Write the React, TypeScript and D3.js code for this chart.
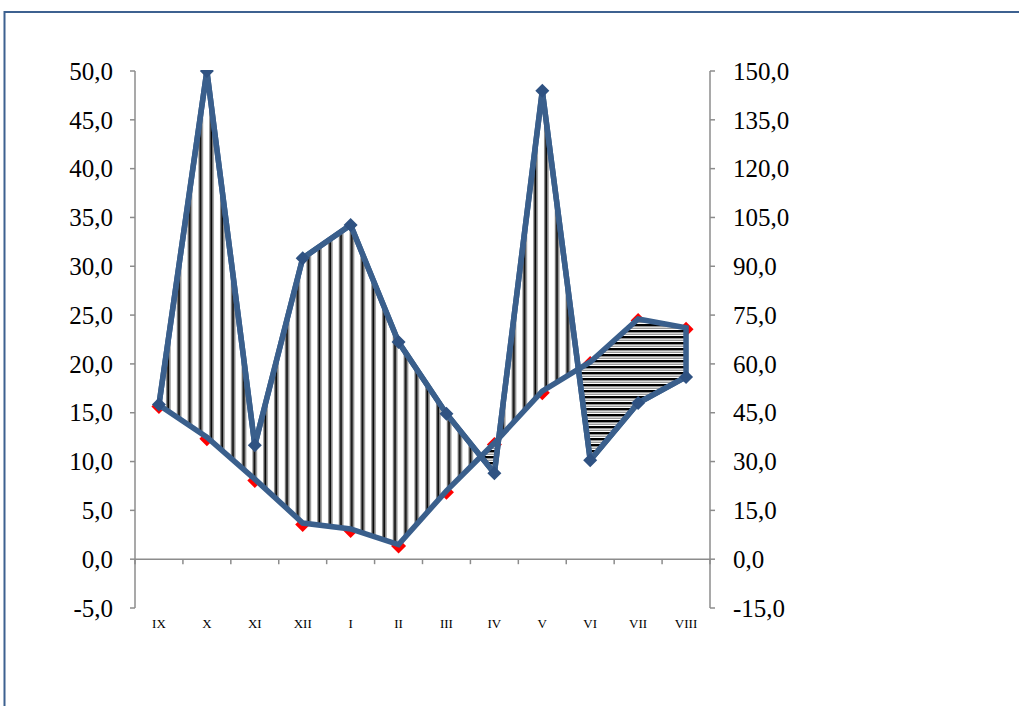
import React from "react";
import * as d3 from "d3";

const months = ["IX", "X", "XI", "XII", "I", "II", "III", "IV", "V", "VI", "VII", "VIII"];
const temperature = [15.8, 12.5, 8.2, 3.7, 3.1, 1.5, 7.0, 11.9, 17.2, 20.2, 24.6, 23.7];
const precipitation = [47.5, 150, 35, 92.5, 102.7, 66.7, 44.7, 26.4, 143.9, 30.4, 48, 56];
const leftTicks = [-5, 0, 5, 10, 15, 20, 25, 30, 35, 40, 45, 50];
const rightTicks = [-15, 0, 15, 30, 45, 60, 75, 90, 105, 120, 135, 150];

const W = 1019;
const H = 706;
const X0 = 135;
const X1 = 710;
const YT = 71;
const YB = 608;
const BLUE = "#3a5f8c";
const AXIS = "#8c8c8c";
const FONT = "'Liberation Serif', 'Times New Roman', serif";

const fmt = (v: number) => v.toFixed(1).replace(".", ",");

type P = [number, number];

export default function App() {
  const x = d3.scaleBand<string>().domain(months).range([X0, X1]);
  const bw = x.bandwidth();
  const yL = d3.scaleLinear().domain([-5, 50]).range([YB, YT]);
  const yR = d3.scaleLinear().domain([-15, 150]).range([YB, YT]);
  const cx = (m: string) => (x(m) as number) + bw / 2;

  const pts = months.map((m, i) => ({
    x: cx(m),
    yt: yL(temperature[i]),
    yp: yR(precipitation[i]),
  }));

  // Build humid/arid polygons between the two curves
  const polys: { humid: boolean; pts: P[] }[] = [];
  const sgn = (d: number) => d >= 0;
  let curP: P[] = [[pts[0].x, pts[0].yp]];
  let curT: P[] = [[pts[0].x, pts[0].yt]];
  let curS = sgn(pts[0].yt - pts[0].yp);
  for (let i = 0; i < pts.length - 1; i++) {
    const a = pts[i];
    const b = pts[i + 1];
    const da = a.yt - a.yp;
    const db = b.yt - b.yp;
    if (da * db < 0) {
      const t = da / (da - db);
      const ix = a.x + t * (b.x - a.x);
      const iy = a.yt + t * (b.yt - a.yt);
      curP.push([ix, iy]);
      curT.push([ix, iy]);
      polys.push({ humid: curS, pts: [...curP, ...curT.slice().reverse()] });
      curP = [[ix, iy]];
      curT = [[ix, iy]];
      curS = sgn(db);
    }
    curP.push([b.x, b.yp]);
    curT.push([b.x, b.yt]);
  }
  polys.push({ humid: curS, pts: [...curP, ...curT.slice().reverse()] });

  const lineT = d3
    .line<number>()
    .x((_, i) => cx(months[i]))
    .y((d) => yL(d));
  const lineP = d3
    .line<number>()
    .x((_, i) => cx(months[i]))
    .y((d) => yR(d));

  const diamond = (px: number, py: number, r: number) =>
    `M${px},${py - r}L${px + r},${py}L${px},${py + r}L${px - r},${py}Z`;

  const y0 = yL(0);
  const boundaries = months.map((m) => x(m) as number).concat([X1]);

  return (
    <div>
      <style>{`body{margin:0;background:#fff}`}</style>
      <svg width={W} height={H} style={{ display: "block" }}>
        <defs>
          <pattern id="vhatch" patternUnits="userSpaceOnUse" width={10.8} height={10} x={1}>
            <rect width={10.8} height={10} fill="#fff" />
            <rect x={3.0} width={1.2} height={10} fill="#8a8a8a" />
            <rect x={4.2} width={2.2} height={10} fill="#000" />
            <rect x={6.4} width={1.2} height={10} fill="#8a8a8a" />
          </pattern>
          <pattern id="hhatch" patternUnits="userSpaceOnUse" width={10} height={6}>
            <rect width={10} height={6} fill="#fff" />
            <rect y={0} width={10} height={2} fill="#000" />
            <rect y={2} width={10} height={0.8} fill="#777" />
            <rect y={3.6} width={10} height={1.4} fill="#9a9a9a" />
          </pattern>
          <clipPath id="plotclip">
            <rect x={0} y={YT - 1} width={W} height={H} />
          </clipPath>
        </defs>

        {/* frame */}
        <rect x={4.5} y={12} width={W + 20} height={H + 20} fill="none" stroke="#3d6190" strokeWidth={2} />

        {/* axes */}
        <line x1={X0} x2={X0} y1={YT} y2={YB} stroke={AXIS} strokeWidth={1.5} />
        <line x1={X1} x2={X1} y1={YT} y2={YB} stroke={AXIS} strokeWidth={1.5} />
        {leftTicks.map((t) => (
          <g key={"l" + t}>
            <line x1={X0 - 5} x2={X0} y1={yL(t)} y2={yL(t)} stroke={AXIS} strokeWidth={1.5} />
            <text x={113} y={yL(t)} dy="0.35em" textAnchor="end" fontFamily={FONT} fontSize={25} fill="#000">
              {fmt(t)}
            </text>
          </g>
        ))}
        {rightTicks.map((t) => (
          <g key={"r" + t}>
            <line x1={X1} x2={X1 + 5} y1={yR(t)} y2={yR(t)} stroke={AXIS} strokeWidth={1.5} />
            <text x={733} y={yR(t)} dy="0.35em" textAnchor="start" fontFamily={FONT} fontSize={25} fill="#000">
              {fmt(t)}
            </text>
          </g>
        ))}
        <line x1={X0} x2={X1} y1={y0} y2={y0} stroke={AXIS} strokeWidth={1.5} />
        {boundaries.map((b, i) => (
          <line key={"b" + i} x1={b} x2={b} y1={y0} y2={y0 + 5} stroke={AXIS} strokeWidth={1.5} />
        ))}
        {months.map((m) => (
          <text key={m} x={cx(m)} y={628} textAnchor="middle" fontFamily={FONT} fontSize={13} fill="#000">
            {m}
          </text>
        ))}

        {/* temperature line (red) */}
        <path d={lineT(temperature) || ""} fill="none" stroke="#ff0000" strokeWidth={3} />
        {temperature.map((t, i) => (
          <path key={"tm" + i} d={diamond(cx(months[i]), yL(t) + 1.5, 7.5)} fill="#ff0000" />
        ))}

        {/* hatched areas */}
        <g clipPath="url(#plotclip)">
          {polys.map((p, i) => (
            <path
              key={"poly" + i}
              d={"M" + p.pts.map((q) => q.join(",")).join("L") + "Z"}
              fill={p.humid ? "url(#vhatch)" : "url(#hhatch)"}
              stroke={BLUE}
              strokeWidth={5.5}
              strokeLinejoin="miter"
              strokeMiterlimit={2}
            />
          ))}
          <path d={lineP(precipitation) || ""} fill="none" stroke={BLUE} strokeWidth={5.5} strokeLinejoin="miter" strokeMiterlimit={2} />
          {precipitation.map((p, i) => (
            <path key={"pm" + i} d={diamond(cx(months[i]), yR(p), 7)} fill="#2f5282" />
          ))}
        </g>
      </svg>
    </div>
  );
}
